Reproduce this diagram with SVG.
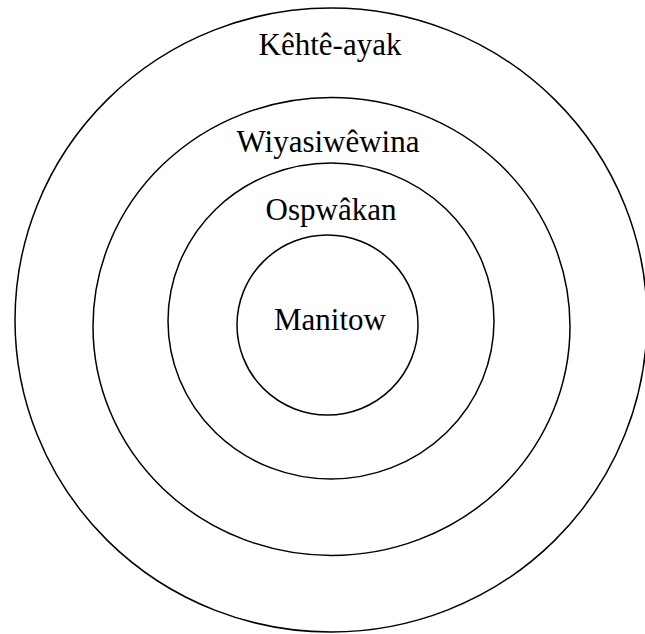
<svg xmlns="http://www.w3.org/2000/svg" width="645" height="634" viewBox="0 0 645 634">
<style>
.ring{fill:none;stroke:#000;stroke-width:1.5}
.lbl{font-family:'Liberation Serif','Times New Roman',serif;font-size:31px;fill:#000;text-anchor:middle}
</style>
<rect width="645" height="634" fill="#fff"/>
<g id="kehte-ayak"><ellipse class="ring" cx="331" cy="320" rx="316" ry="312"/><text class="lbl" x="330" y="55">Kêhtê-ayak</text></g>
<g id="wiyasiwewina"><ellipse class="ring" cx="331.5" cy="326.5" rx="238.5" ry="229"/><text class="lbl" x="328" y="152">Wiyasiwêwina</text></g>
<g id="ospwakan"><ellipse class="ring" cx="331" cy="321" rx="163" ry="158"/><text class="lbl" x="331" y="220">Ospwâkan</text></g>
<g id="manitow"><ellipse class="ring" cx="327.5" cy="325" rx="90.5" ry="90"/><text class="lbl" x="330" y="330">Manitow</text></g>
<g id="connectors"></g>
</svg>
